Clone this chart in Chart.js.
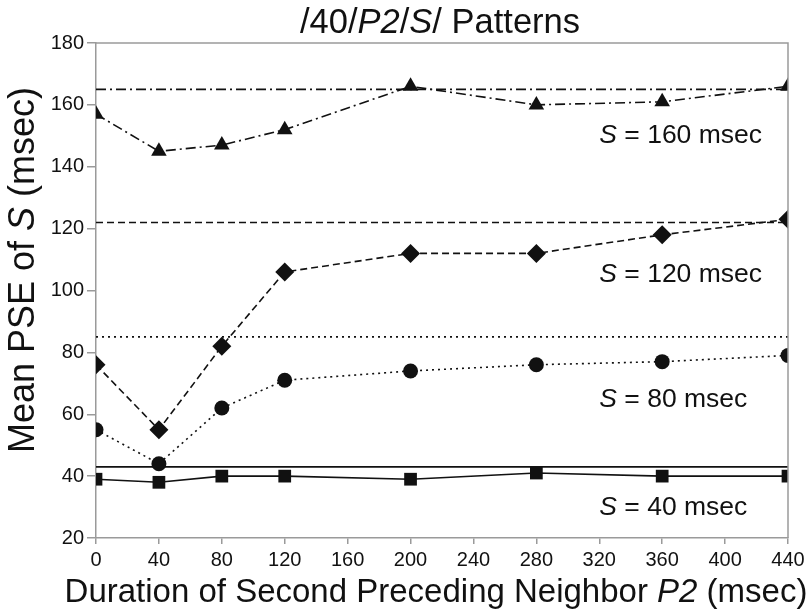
<!DOCTYPE html>
<html>
<head>
<meta charset="utf-8">
<script src="https://cdn.jsdelivr.net/npm/chart.js@4.4.1/dist/chart.umd.min.js"></script>
<style>
  html, body { margin: 0; padding: 0; background: #fff; }
  #wrap { width: 809px; height: 614px; }
</style>
</head>
<body>
<div id="wrap"><canvas id="myChart" width="809" height="614"></canvas></div>
<script>
// ---------- data ----------
const P2_MS    = [0, 40, 80, 120, 200, 280, 360, 440];
const PSE_S160 = [157, 145, 147, 152, 166, 160, 161, 166];
const PSE_S120 = [76, 55, 82, 106, 112, 112, 118, 123];
const PSE_S80  = [55, 44, 62, 71, 74, 76, 77, 79];
const PSE_S40  = [39, 38, 40, 40, 39, 41, 40, 40];

// horizontal reference levels, one per S condition (same order)
const S_VALUES   = [160, 120, 80, 40];
const REF_LEVELS = [165, 122, 85, 43];

// where the "S = ... msec" labels sit, in data units
const LABEL_X = 320;
const LABEL_Y = [147.7, 102.7, 62.3, 27.4];

const X_MIN = 0, X_MAX = 440, X_STEP = 40;
const Y_MIN = 20, Y_MAX = 180, Y_STEP = 20;

// ---------- styles ----------
const FONT = "'Liberation Sans', Arial, Helvetica, sans-serif";
const INK = "#111";
const FRAME = "#9a9a9a";

const seriesList = [
  { vals: PSE_S160, marker: "triangle", r: 9,   dash: [10, 4, 2, 4] },
  { vals: PSE_S120, marker: "rectRot",  r: 9.5, dash: [7, 4] },
  { vals: PSE_S80,  marker: "circle",   r: 7.5, dash: [2, 4] },
  { vals: PSE_S40,  marker: "rect",     r: 9,   dash: [] },
];

const datasets = [];
seriesList.forEach((s, i) => {
  datasets.push({
    label: "ref S=" + S_VALUES[i],
    data: [{ x: X_MIN, y: REF_LEVELS[i] }, { x: X_MAX, y: REF_LEVELS[i] }],
    borderColor: INK,
    borderWidth: 1.6,
    borderDash: s.dash,
    pointRadius: 0,
    tension: 0,
    fill: false,
  });
  datasets.push({
    label: "S=" + S_VALUES[i],
    data: P2_MS.map((x, k) => ({ x, y: s.vals[k] })),
    borderColor: INK,
    backgroundColor: INK,
    borderWidth: 1.6,
    borderDash: s.dash,
    pointStyle: s.marker,
    pointRadius: s.r,
    pointBorderWidth: 0,
    pointBackgroundColor: INK,
    tension: 0,
    fill: false,
  });
});

// ---------- text with italic pieces ----------
function drawMixed(ctx, parts, size, x, y) {
  const fontOf = p => (p.i ? "italic " : "") + size + "px " + FONT;
  let total = 0;
  parts.forEach(p => { ctx.font = fontOf(p); total += ctx.measureText(p.t).width; });
  let cx = x - total / 2;
  ctx.textAlign = "left";
  ctx.textBaseline = "alphabetic";
  parts.forEach(p => {
    ctx.font = fontOf(p);
    ctx.fillText(p.t, cx, y);
    cx += ctx.measureText(p.t).width;
  });
}
function drawMixedLeft(ctx, parts, size, x, y) {
  let cx = x;
  ctx.textAlign = "left";
  ctx.textBaseline = "alphabetic";
  parts.forEach(p => {
    ctx.font = (p.i ? "italic " : "") + size + "px " + FONT;
    ctx.fillText(p.t, cx, y);
    cx += ctx.measureText(p.t).width;
  });
}

const decorPlugin = {
  id: "decor",
  afterDraw(chart) {
    const { ctx, chartArea: a, scales } = chart;
    ctx.save();
    // top + right frame
    ctx.strokeStyle = FRAME;
    ctx.lineWidth = 1.5;
    ctx.beginPath();
    ctx.moveTo(a.left, a.top);
    ctx.lineTo(a.right, a.top);
    ctx.lineTo(a.right, a.bottom);
    ctx.stroke();

    ctx.fillStyle = INK;
    const midX = (a.left + a.right) / 2;
    // title
    drawMixed(ctx, [
      { t: "/40/" }, { t: "P2", i: true }, { t: "/" }, { t: "S", i: true }, { t: "/ Patterns" }
    ], 34.5, midX - 2, 33);
    // x title
    drawMixed(ctx, [
      { t: "Duration of Second Preceding Neighbor " }, { t: "P2", i: true }, { t: " (msec)" }
    ], 33, midX - 6, 602);
    // y title
    ctx.save();
    ctx.translate(34, 270);
    ctx.rotate(-Math.PI / 2);
    drawMixed(ctx, [
      { t: "Mean PSE of " }, { t: "S", i: true }, { t: " (msec)" }
    ], 36, 0, 0);
    ctx.restore();

    // condition labels
    S_VALUES.forEach((s, i) => {
      const px = scales.x.getPixelForValue(LABEL_X);
      const py = scales.y.getPixelForValue(LABEL_Y[i]);
      drawMixedLeft(ctx, [{ t: "S", i: true }, { t: " = " + s + " msec" }], 26.5, px, py);
    });
    ctx.restore();
  }
};

const ctx = document.getElementById("myChart").getContext("2d");
new Chart(ctx, {
  type: "line",
  data: { datasets },
  plugins: [decorPlugin],
  options: {
    responsive: false,
    animation: false,
    devicePixelRatio: 1,
    layout: { padding: { top: 43, right: 21, left: 0, bottom: 0 } },
    plugins: { legend: { display: false }, tooltip: { enabled: false }, title: { display: false } },
    scales: {
      x: {
        type: "linear",
        min: X_MIN, max: X_MAX,
        afterFit: (s) => { s.height = 76; },
        border: { color: FRAME, width: 1.5 },
        grid: { drawOnChartArea: false, drawTicks: true, tickLength: 6, color: FRAME, lineWidth: 1.5 },
        ticks: { stepSize: X_STEP, color: INK, padding: 4, maxRotation: 0, font: { family: FONT, size: 20 } },
      },
      y: {
        type: "linear",
        min: Y_MIN, max: Y_MAX,
        afterFit: (s) => { s.width = 96; },
        border: { color: FRAME, width: 1.5 },
        grid: { drawOnChartArea: false, drawTicks: true, tickLength: 9, color: FRAME, lineWidth: 1.5 },
        ticks: { stepSize: Y_STEP, color: INK, padding: 3, font: { family: FONT, size: 20 } },
      }
    }
  }
});
</script>
</body>
</html>
